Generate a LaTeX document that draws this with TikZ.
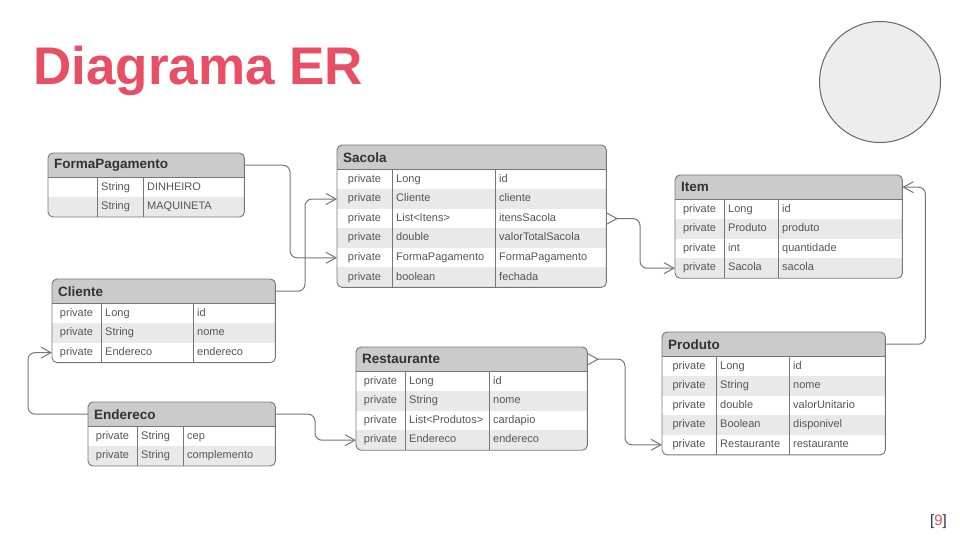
\documentclass[tikz,border=0pt]{standalone}
\usepackage{fontspec}
\setmainfont{Liberation Sans}
\usetikzlibrary{arrows.meta,positioning,backgrounds,calc}
\definecolor{titulo}{RGB}{233,79,100}
\definecolor{bordacor}{RGB}{118,118,118}
\definecolor{cabeca}{RGB}{203,203,203}
\definecolor{zebra}{RGB}{233,233,233}
\definecolor{cinzaescuro}{RGB}{50,50,50}
\definecolor{textocel}{RGB}{85,85,85}
\definecolor{marinho}{RGB}{33,43,74}

% tabela: nome, x, y, largura, divisoria 1, divisoria 2, titulo, linhas
\newcommand{\ertabela}[8]{%
  \node[cabecalho, minimum width=#4pt] (#1) at (#2,#3) {};
  \node[titulotab] (#1-nome) at ($(#1.west)+(6,0)$) {#7};
  \foreach \a/\b/\c [count=\i] in {#8} {
    \node[linha, minimum width=#4pt] (#1-\i) at ($(#1.south west)+(0,{(\i-1)*19.6})$) {};
    \node[celula] (#1-\i-a) at ($(#1-\i.west)+({#5/2},0)$) {\a};
    \node[celula, anchor=west] (#1-\i-b) at ($(#1-\i.west)+(#5+4,0)$) {\b};
    \node[celula, anchor=west] (#1-\i-c) at ($(#1-\i.west)+(#6+4,0)$) {\c};
    \xdef\ultima{#1-\i}
  }
  % fundo cinza e linhas alternadas
  \begin{scope}[on background layer]
    \begin{scope}
      \clip[rounded corners=5pt] (#1.north west) rectangle (\ultima.south east);
      \fill[cabeca] (#1.north west) rectangle (#1.south east);
      \foreach \a/\b/\c [count=\i] in {#8} {
        \ifodd\i\else \fill[zebra] (#1-\i.north west) rectangle (#1-\i.south east); \fi
      }
    \end{scope}
  \end{scope}
  \draw[borda] (#1.south west) -- (#1.south east);
  \draw[borda] ($(#1.south west)+(#5,0)$) -- ($(\ultima.south west)+(#5,0)$);
  \draw[borda] ($(#1.south west)+(#6,0)$) -- ($(\ultima.south west)+(#6,0)$);
  \draw[borda, rounded corners=5pt] (#1.north west) rectangle (\ultima.south east);
}

\begin{document}
\begin{tikzpicture}[
    x=1pt, y=-1pt,
    cabecalho/.style={rectangle, inner sep=0pt, minimum height=24pt, anchor=north west},
    linha/.style={rectangle, inner sep=0pt, minimum height=19.6pt, anchor=north west},
    titulotab/.style={anchor=west, inner sep=0pt, font=\fontsize{13.5}{15}\selectfont\bfseries, text=cinzaescuro},
    celula/.style={inner sep=0pt, font=\fontsize{11}{13}\selectfont, text=textocel, text height=8pt, text depth=2.5pt},
    borda/.style={draw=bordacor, line width=0.9pt},
    liga/.style={draw=bordacor, line width=1pt, rounded corners=7pt, -{Straight Barb[length=10pt,width=11pt]}},
    muitos/.style={{Straight Barb[reversed,length=10pt,width=11pt]}-{Straight Barb[length=10pt,width=11pt]}}
]
\useasboundingbox (0,0) rectangle (960,540);

% Titulo e circulo
\node[anchor=base west, inner sep=0pt, font=\fontsize{53}{60}\selectfont\bfseries, text=titulo] (titulo) at (33,85) {Diagrama ER};
\node[circle, draw=black!60, line width=1pt, fill=black!7, minimum size=121pt] (logo) at (880,82) {};

% Entidades
\ertabela{formapagamento}{48}{153}{196}{49}{95}{FormaPagamento}{{}/String/DINHEIRO, {}/String/MAQUINETA}
\ertabela{sacola}{337}{145}{269}{55}{158}{Sacola}{private/Long/id, private/Cliente/cliente, private/List<Itens>/itensSacola, private/double/valorTotalSacola, private/FormaPagamento/FormaPagamento, private/boolean/fechada}
\ertabela{item}{675}{175}{227}{49}{103}{Item}{private/Long/id, private/Produto/produto, private/int/quantidade, private/Sacola/sacola}
\ertabela{cliente}{52}{279}{223}{49}{141}{Cliente}{private/Long/id, private/String/nome, private/Endereco/endereco}
\ertabela{endereco}{88}{402}{187}{49}{95}{Endereco}{private/String/cep, private/String/complemento}
\ertabela{restaurante}{356}{347}{231}{49}{133}{Restaurante}{private/Long/id, private/String/nome, private/List<Produtos>/cardapio, private/Endereco/endereco}
\ertabela{produto}{662}{332}{223}{54}{127}{Produto}{private/Long/id, private/String/nome, private/double/valorUnitario, private/Boolean/disponivel, private/Restaurante/restaurante}

% Ligacoes
\draw[liga] (formapagamento.east) -| ($(sacola-5.west)+(-47,0)$) -- (sacola-5.west);
\draw[liga] (cliente.east) -| ($(sacola-2.west)+(-32,0)$) -- (sacola-2.west);
\draw[liga, muitos] (sacola-3.east) -| ($(item-4.west)+(-35,0)$) -- (item-4.west);
\draw[liga, muitos] (restaurante.east) -| ($(produto-5.west)+(-37,0)$) -- (produto-5.west);
\draw[liga] (produto.east) -| ($(item.east)+(23,0)$) -- (item.east);
\draw[liga] (endereco.west) -| ($(cliente-3.west)+(-24,0)$) -- (cliente-3.west);
\draw[liga] (endereco.east) -| ($(restaurante-4.west)+(-41,0)$) -- (restaurante-4.west);

% Numero da pagina
\node[anchor=base east, inner sep=0pt, font=\fontsize{15}{18}\selectfont, text=marinho] (pagina) at (947,525) {[\textcolor{titulo}{9}]};

\end{tikzpicture}
\end{document}
